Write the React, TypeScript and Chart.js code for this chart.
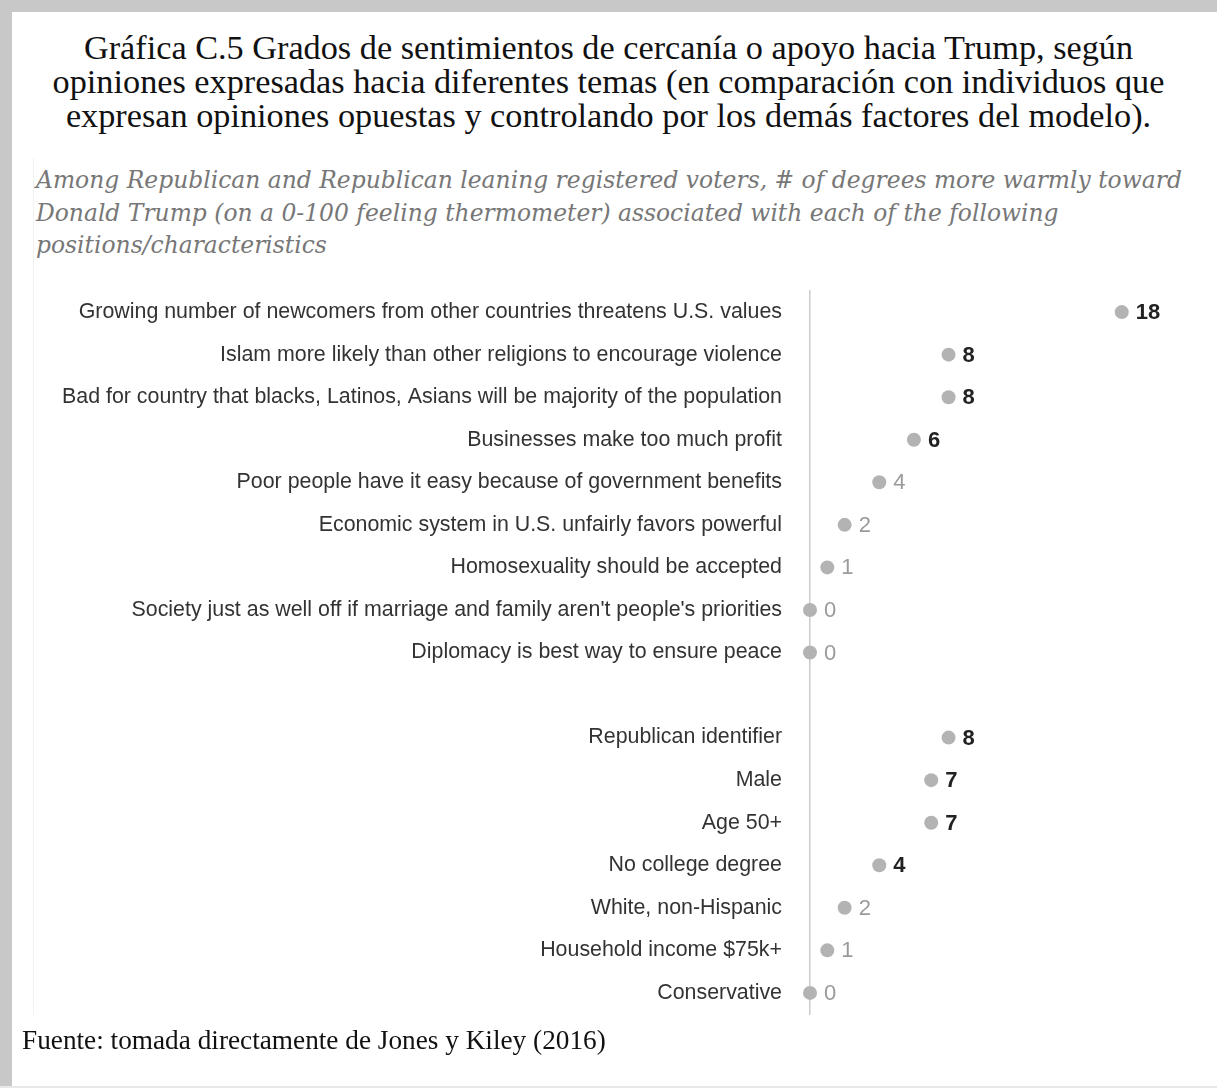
import React, { useEffect, useRef } from "react";
import { Chart, registerables } from "chart.js";
Chart.register(...registerables);

document.body.style.margin = "0";

const titleLines = [
  "Gráfica C.5 Grados de sentimientos de cercanía o apoyo hacia Trump, según",
  "opiniones expresadas hacia diferentes temas (en comparación con individuos que",
  "expresan opiniones opuestas y controlando por los demás factores del modelo).",
];
const subtitleLines = [
  "Among Republican and Republican leaning registered voters, # of degrees more warmly toward",
  "Donald Trump (on a 0-100 feeling thermometer) associated with each of the following",
  "positions/characteristics",
];
const sourceText = "Fuente: tomada directamente de Jones y Kiley (2016)";

const categories = [
  "Growing number of newcomers from other countries threatens U.S. values",
  "Islam more likely than other religions to encourage violence",
  "Bad for country that blacks, Latinos, Asians will be majority of the population",
  "Businesses make too much profit",
  "Poor people have it easy because of government benefits",
  "Economic system in U.S. unfairly favors powerful",
  "Homosexuality should be accepted",
  "Society just as well off if marriage and family aren't people's priorities",
  "Diplomacy is best way to ensure peace",
  "",
  "Republican identifier",
  "Male",
  "Age 50+",
  "No college degree",
  "White, non-Hispanic",
  "Household income $75k+",
  "Conservative",
];
const values: (number | null)[] = [18, 8, 8, 6, 4, 2, 1, 0, 0, null, 8, 7, 7, 4, 2, 1, 0];
const significant = [true, true, true, true, false, false, false, false, false, false, true, true, true, true, false, false, false];

function fitSize(text: string, font: (s: number) => string, target: number) {
  const ctx = document.createElement("canvas").getContext("2d")!;
  ctx.font = font(100);
  const w = ctx.measureText(text).width;
  return (100 * target) / w;
}

const titleFont = (s: number) => `${s}px "Liberation Serif"`;
const subFont = (s: number) => `italic ${s}px "DejaVu Serif"`;
const srcFont = (s: number) => `${s}px "Liberation Serif"`;
const labelFont = (s: number) => `${s}px "Liberation Sans"`;

const titleSize = fitSize(titleLines[1], titleFont, 1112);
const subSize = fitSize(subtitleLines[0], subFont, 1147);
const srcSize = fitSize(sourceText, srcFont, 584);
const labelSize = fitSize(categories[0], labelFont, 704);

export default function App() {
  const ref = useRef<HTMLCanvasElement>(null);
  useEffect(() => {
    const valueLabels = {
      id: "valueLabels",
      afterDatasetsDraw(chart: any) {
        const meta = chart.getDatasetMeta(0);
        const ctx = chart.ctx;
        meta.data.forEach((pt: any, i: number) => {
          const v = values[i];
          if (v == null) return;
          ctx.save();
          ctx.font = `${significant[i] ? "bold " : ""}22px "Liberation Sans"`;
          ctx.fillStyle = significant[i] ? "#222" : "#9a9a9a";
          ctx.textBaseline = "middle";
          ctx.textAlign = "left";
          ctx.fillText(String(v), pt.x + 14, pt.y + 1);
          ctx.restore();
        });
      },
    };
    const chart = new Chart(ref.current!, {
      type: "line",
      data: {
        labels: categories,
        datasets: [
          {
            data: values as any,
            showLine: false,
            pointRadius: 7,
            pointHoverRadius: 7,
            pointBackgroundColor: "#b3b3b3",
            pointBorderWidth: 0,
            clip: false as any,
          },
        ],
      },
      options: {
        indexAxis: "y",
        animation: false,
        responsive: false,
        layout: { autoPadding: false, padding: { top: 10, bottom: 10, left: 0, right: 0 } },
        plugins: { legend: { display: false }, tooltip: { enabled: false } },
        scales: {
          x: { type: "linear", display: false, min: 0, max: 23.5 },
          y: {
            type: "category",
            offset: true,
            grid: { display: false, drawTicks: false },
            border: { display: true, color: "#cccccc", width: 1.5 },
            ticks: {
              color: "#333",
              font: { family: "Liberation Sans", size: labelSize },
              padding: 28,
              autoSkip: false,
            },
            afterFit: (s: any) => {
              s.width = 798;
            },
          },
        },
      },
      plugins: [valueLabels],
    });
    return () => chart.destroy();
  }, []);

  return (
    <div style={{ position: "relative", width: 1217, height: 1088, background: "#fff", overflow: "hidden" }}>
      <div style={{ position: "absolute", left: 0, top: 0, width: 1217, height: 12, background: "#c8c8c8" }} />
      <div style={{ position: "absolute", left: 0, top: 0, width: 12, height: 1088, background: "#c8c8c8" }} />
      <div style={{ position: "absolute", left: 0, top: 1086, width: 1217, height: 2, background: "#e8e8e8" }} />
      <div style={{ position: "absolute", left: 33, top: 158, width: 1, height: 857, background: "#f2f2f2" }} />
      <div style={{ position: "absolute", left: 0, top: 30, width: 1217, textAlign: "center", font: titleFont(titleSize), lineHeight: "34px", color: "#111" }}>
        {titleLines.map((l, i) => (
          <div key={i} style={{ whiteSpace: "nowrap" }}>{l}</div>
        ))}
      </div>
      <div style={{ position: "absolute", left: 36, top: 164, font: subFont(subSize), lineHeight: "32.5px", color: "#777" }}>
        {subtitleLines.map((l, i) => (
          <div key={i} style={{ whiteSpace: "nowrap" }}>{l}</div>
        ))}
      </div>
      <canvas ref={ref} width={1205} height={805} style={{ position: "absolute", left: 12, top: 250, width: 1205, height: 805 }} />
      <div style={{ position: "absolute", left: 22, top: 1025, font: srcFont(srcSize), lineHeight: "30px", color: "#111", whiteSpace: "nowrap" }}>
        {sourceText}
      </div>
    </div>
  );
}
